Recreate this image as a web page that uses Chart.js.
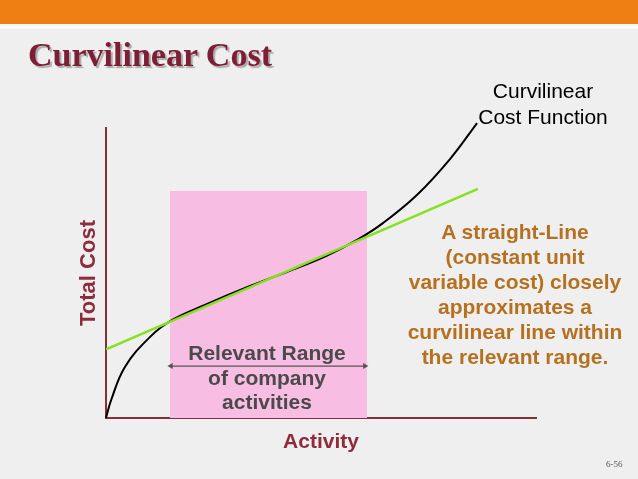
<!DOCTYPE html>
<html>
<head>
<meta charset="utf-8">
<title>Curvilinear Cost</title>
<script src="https://cdn.jsdelivr.net/npm/chart.js@4.4.1/dist/chart.umd.min.js"></script>
<style>
  html, body { margin: 0; padding: 0; }
  body { width: 638px; height: 479px; overflow: hidden; }
  .slide {
    position: relative;
    width: 638px;
    height: 479px;
    background: #efefef;
    font-family: "Liberation Sans", Arial, sans-serif;
  }
  .topbar { position: absolute; left: 0; top: 0; width: 638px; height: 24px; background: #ef7f12; }
  .strip  { position: absolute; left: 0; top: 24px; width: 638px; height: 5px; background: #fafafa; }
  #chart  { position: absolute; left: 0; top: 0; }
  .title {
    position: absolute;
    left: 28px;
    top: 38px;
    font-family: "Liberation Serif", "Times New Roman", serif;
    font-weight: bold;
    font-size: 34px;
    line-height: 34px;
    color: #7d1e34;
    text-shadow: 2px 2px 1px #a9a9a9;
    white-space: nowrap;
  }
  .note { position: absolute; text-align: center; white-space: nowrap; }
  .fn    { left: 463px; top: 78px;  width: 160px; font-size: 21px; line-height: 26px; color: #000; }
  .brown { left: 395px; top: 219px; width: 240px; font-size: 21px; line-height: 25px; color: #b5711f; font-weight: bold; }
  .range { left: 177px; top: 341px; width: 180px; font-size: 21px; line-height: 24.5px; color: #4a4a4a; font-weight: bold; }
  .page  {
    position: absolute; left: 606px; top: 459px;
    font-family: "Liberation Serif", serif; font-size: 9px; color: #555;
  }
</style>
</head>
<body>
<div class="slide">
  <div class="topbar"></div>
  <div class="strip"></div>
  <canvas id="chart" width="638" height="479"></canvas>
  <div class="title">Curvilinear Cost</div>
  <div class="note fn">Curvilinear<br>Cost Function</div>
  <div class="note brown">A straight-Line<br>(constant unit<br>variable cost) closely<br>approximates a<br>curvilinear line within<br>the relevant range.</div>
  <div class="note range">Relevant Range<br>of company<br>activities</div>
  <div class="page">6-56</div>
</div>

<script>
// ── Data (activity 0–100 on x, total cost 0–100 on y) ──
// Curvilinear cost function
const curveActivity = [0, 1.2, 4.4, 10.2, 15.4, 23.0, 33.5, 44.4, 51.4, 58.4, 64.4, 72.3, 80.0, 86.3];
const curveCost     = [0, 6.2, 17.6, 27.9, 33.8, 39.0, 45.5, 51.7, 56.0, 61.4, 67.2, 76.9, 89.3, 101.7];

// Straight-line approximation (two end points)
const lineActivity = [0, 86.5];
const lineCost     = [23.7, 79.0];

// Relevant range box and its double arrow
const rangeActivity = [14.9, 60.7];
const rangeTop      = [78.3, 78.3];
const arrowActivity = [15.1, 60.2];
const arrowCost     = [17.9, 17.9];

// Axis titles
const xTitle = 'Activity';
const yTitle = 'Total Cost';

const AXIS_RED = '#862f3c';

function toPoints(xs, ys) {
  return xs.map((x, i) => ({ x: x, y: ys[i] }));
}

// ── Build chart ─────────────────────────────
const ctx = document.getElementById('chart').getContext('2d');

new Chart(ctx, {
  type: 'line',
  data: {
    datasets: [
      {
        // green straight line, drawn on top
        data: toPoints(lineActivity, lineCost),
        borderColor: '#84e21e',
        borderWidth: 2.5,
        pointRadius: 0,
        fill: false
      },
      {
        // curvilinear cost function
        data: toPoints(curveActivity, curveCost),
        borderColor: '#000000',
        borderWidth: 2,
        pointRadius: 0,
        tension: 0.4,
        fill: false,
        clip: false
      },
      {
        // double headed arrow across the relevant range
        data: toPoints(arrowActivity, arrowCost),
        borderColor: '#555555',
        backgroundColor: '#555555',
        borderWidth: 1.2,
        pointStyle: 'triangle',
        pointRadius: 3.5,
        pointRotation: [-90, 90],
        pointBorderWidth: 0,
        fill: false
      },
      {
        // pink relevant range box
        data: toPoints(rangeActivity, rangeTop),
        borderWidth: 0,
        borderColor: 'rgba(0,0,0,0)',
        backgroundColor: '#f8bde2',
        pointRadius: 0,
        fill: 'origin'
      }
    ]
  },
  options: {
    responsive: false,
    animation: false,
    events: [],
    layout: { padding: { left: 0, top: 128, right: 102, bottom: 0 } },
    plugins: {
      legend: { display: false },
      tooltip: { enabled: false },
      title: { display: false }
    },
    scales: {
      x: {
        type: 'linear',
        min: 0,
        max: 100,
        grid: { display: false },
        ticks: { display: false },
        border: { color: AXIS_RED, width: 2 },
        title: {
          display: true,
          text: xTitle,
          color: '#8e2b3c',
          font: { family: 'Liberation Sans', size: 21, weight: 'bold' },
          padding: { top: 0, bottom: 24 }
        },
        afterFit: s => { s.height = 61; }
      },
      y: {
        type: 'linear',
        min: 0,
        max: 100,
        grid: { display: false },
        ticks: { display: false },
        border: { color: AXIS_RED, width: 2 },
        title: {
          display: true,
          text: yTitle,
          color: '#8e2b3c',
          font: { family: 'Liberation Sans', size: 22, weight: 'bold' },
          padding: { top: 76, bottom: 0 }
        },
        afterFit: s => { s.width = 106; }
      }
    }
  }
});
</script>
</body>
</html>
